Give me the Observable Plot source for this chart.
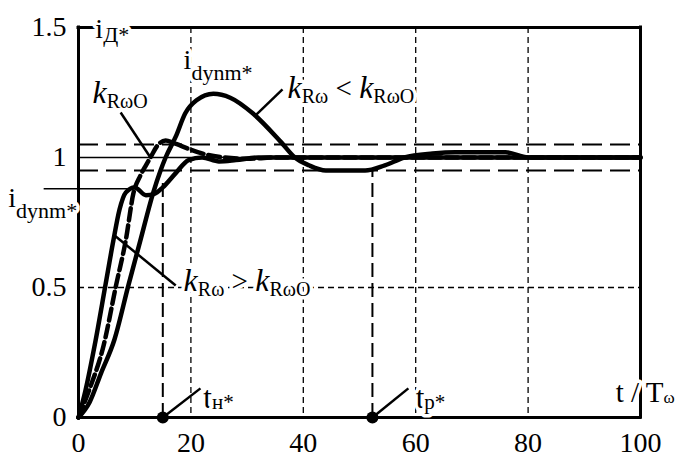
<!DOCTYPE html>
<html>
<head>
<meta charset="utf-8">
<script src="https://cdn.jsdelivr.net/npm/d3@7"></script>
<script src="https://cdn.jsdelivr.net/npm/@observablehq/plot@0.6"></script>
<style>
  html, body { margin: 0; padding: 0; background: white; }
  svg text, svg tspan { font-family: "Liberation Serif", "Times New Roman", serif !important; }
</style>
</head>
<body>
<div id="chart"></div>
<script>
// ---- data ----
// k_Rω > k_RωO (fast, with dip)
const tHigh = [0, 1.2, 2.9, 4.8, 6.2, 7.3, 8.4, 10, 12, 13.5, 15, 17.3, 19.6, 22, 25, 28, 32, 100];
const vHigh = [0, 0.1, 0.28, 0.51, 0.68, 0.8, 0.865, 0.885, 0.855, 0.86, 0.885, 0.94, 0.99, 1.0, 0.985, 0.99, 1.0, 1.0];
// k_RωO (optimal, dashed)
const tOpt = [0, 1.8, 4.5, 6.7, 8.4, 9.8, 11, 12, 12.8, 14.2, 15.5, 17, 20, 23, 26, 30, 35, 100];
const vOpt = [0, 0.1, 0.28, 0.51, 0.68, 0.865, 0.93, 0.97, 1.0, 1.05, 1.065, 1.055, 1.03, 1.01, 1.0, 0.995, 1.0, 1.0];
// k_Rω < k_RωO (slow, overshoot)
const tLow = [0, 2, 4, 6.4, 8.9, 11, 13.3, 14.6, 15.5, 17.3, 19, 21, 24, 27, 31, 36, 38.5, 41, 44, 51, 54.5, 58, 63, 67, 76, 80, 100];
const vLow = [0, 0.06, 0.17, 0.3, 0.51, 0.68, 0.865, 0.95, 1.0, 1.08, 1.17, 1.22, 1.245, 1.23, 1.17, 1.06, 1.0, 0.97, 0.95, 0.95, 0.97, 1.0, 1.015, 1.02, 1.02, 1.0, 1.0];

const xTicks = [0, 20, 40, 60, 80, 100];
const yTicks = [0, 0.5, 1, 1.5];
const gridX = [20, 40, 60, 80];
const gridY = [0.5];
const bandY = [0.95, 1.05];
const setY = [1];

// characteristic times t_н*, t_р* and heights of their markers
const tMarks = [15, 52.3];
const tMarkTop = [0.92, 0.95];

// i_dynm* level
const iDynm = 0.88;
const iDynmT = [-6.2, 8.9];

// pointer lines (from, to) in data units
const ptrT1 = [7.5, 36.3, 6.2, 15, 52.3];
const ptrV1 = [1.173, 1.262, 0.704, 0, 0];
const ptrT2 = [12.8, 31.5, 17.3, 21.7, 58.7];
const ptrV2 = [1.0, 1.162, 0.508, 0.112, 0.112];

// annotations (left edge, baseline) in data units
const labelText = ["i_{Д*}", "i_{dynm*}", "i_{dynm*}", "k_{RωO}", "k_{Rω} < k_{RωO}", "k_{Rω} > k_{RωO}", "t_{н*}", "t_{р*}", "t / T_{ω}"];
const labelT = [3.0, 18.7, -12.5, 2.5, 37.2, 18.7, 22.2, 60.0, 95.6];
const labelV = [1.4615, 1.342, 0.808, 1.208, 1.23, 0.488, 0.038, 0.038, 0.058];

// ---- build ----
const FONT = "Liberation Serif, Times New Roman, serif";
const curves = [];
tHigh.forEach((t, i) => curves.push({series: "high", t, v: vHigh[i]}));
tLow.forEach((t, i) => curves.push({series: "low", t, v: vLow[i]}));
const opt = tOpt.map((t, i) => ({t, v: vOpt[i]}));
const ptrIdx = ptrT1.map((_, i) => i);
const labIdx = labelText.map((_, i) => i);

const plot = Plot.plot({
  width: 677,
  height: 457,
  marginLeft: 78,
  marginRight: 37,
  marginTop: 27,
  marginBottom: 40,
  x: {domain: [0, 100]},
  y: {domain: [0, 1.5]},
  marks: [
    Plot.ruleX(gridX, {stroke: "black", strokeWidth: 1.3, strokeDasharray: "6,4"}),
    Plot.ruleY(gridY, {stroke: "black", strokeWidth: 1.3, strokeDasharray: "6,4"}),
    Plot.ruleY(bandY, {stroke: "black", strokeWidth: 2, strokeDasharray: "20,8"}),
    Plot.ruleY(setY, {stroke: "black", strokeWidth: 1.5}),
    Plot.ruleX(tMarks, {x: d => d, y1: 0, y2: (d, i) => tMarkTop[i], stroke: "black", strokeWidth: 2, strokeDasharray: "14,6"}),
    Plot.line(curves, {x: "t", y: "v", z: "series", curve: "monotone-x", stroke: "black", strokeWidth: 4.5}),
    Plot.line(opt, {x: "t", y: "v", curve: "monotone-x", stroke: "black", strokeWidth: 4.5, strokeDasharray: "12,5"}),
    Plot.ruleX([0, 100], {y1: 0, y2: 1.5, stroke: "black", strokeWidth: 3, strokeLinecap: "square"}),
    Plot.ruleY([0, 1.5], {x1: 0, x2: 100, stroke: "black", strokeWidth: 3, strokeLinecap: "square"}),
    Plot.axisX({ticks: xTicks, tickSize: 0, tickPadding: 15, fontSize: 28, fontFamily: FONT, label: null, tickFormat: d => String(d)}),
    Plot.axisY({ticks: yTicks, tickSize: 0, tickPadding: 12, fontSize: 28, fontFamily: FONT, label: null, tickFormat: d => String(d)}),
    Plot.text(labIdx, {
      x: i => labelT[i], y: i => labelV[i], text: i => labelText[i],
      textAnchor: "start", lineAnchor: "bottom", fontSize: 28, fontFamily: FONT,
      fill: "black", stroke: "white", strokeWidth: 7, strokeLinejoin: "round"
    }),
    Plot.link(ptrIdx, {x1: i => ptrT1[i], y1: i => ptrV1[i], x2: i => ptrT2[i], y2: i => ptrV2[i], stroke: "black", strokeWidth: 2.5}),
    Plot.link([0], {x1: iDynmT[0], x2: iDynmT[1], y1: iDynm, y2: iDynm, stroke: "black", strokeWidth: 1.5}),
    Plot.dot(tMarks, {x: d => d, y: 0, r: 6, fill: "black"})
  ]
});

plot.setAttribute("font-family", FONT);

// rich text: subscripts and italic k
const NS = "http://www.w3.org/2000/svg";
plot.querySelectorAll("text").forEach(t => {
  t.setAttribute("font-family", FONT);
  const s = t.textContent;
  if (!s.includes("_{")) return;
  t.textContent = "";
  const first = s[0];
  const shift = first === "k" ? 5 : s.startsWith("i_{dynm") ? 11 : first === "i" ? 4 : 1;
  const mainSize = first === "i" ? 28 : first === "t" && s.length < 8 ? 31 : 29;
  const subSize = first === "i" ? 22 : first === "t" && s.length < 8 ? 21 : 20;
  let cur = 0;
  s.split(/(_\{[^}]*\})/).filter(x => x).forEach(seg => {
    if (seg.startsWith("_{")) {
      const ts = document.createElementNS(NS, "tspan");
      ts.textContent = seg.slice(2, -1);
      ts.setAttribute("font-size", (seg === "_{ω}") ? 17 : subSize);
      ts.setAttribute("dy", shift - cur);
      cur = shift;
      t.appendChild(ts);
    } else {
      seg.split(/(k)/).filter(x => x).forEach(p => {
        const ts = document.createElementNS(NS, "tspan");
        ts.textContent = p;
        ts.setAttribute("font-size", p === "k" ? 32 : mainSize);
        if (p === "k") ts.setAttribute("font-style", "italic");
        ts.setAttribute("dy", -cur);
        cur = 0;
        t.appendChild(ts);
      });
    }
  });
});

document.getElementById("chart").appendChild(plot);
</script>
</body>
</html>
